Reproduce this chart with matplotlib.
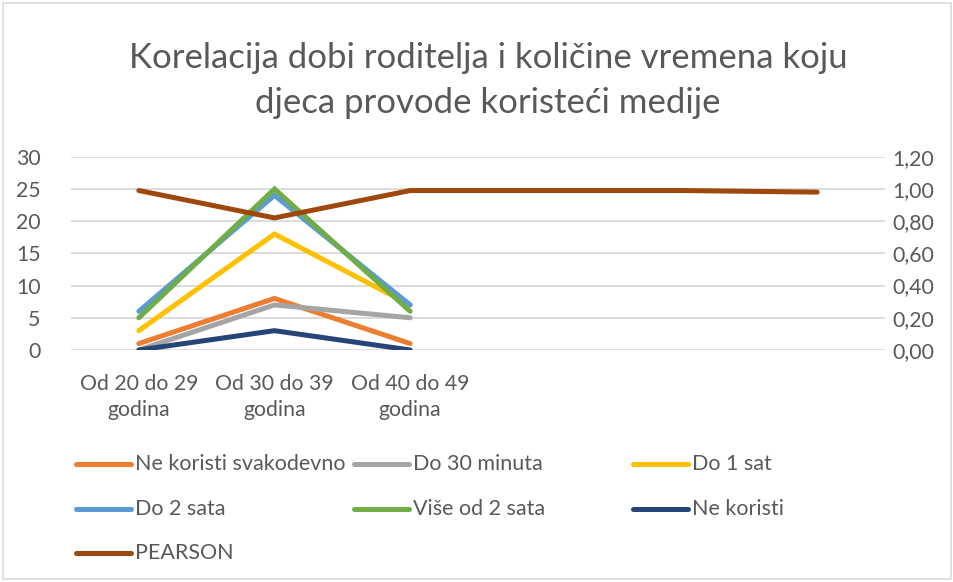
import matplotlib
matplotlib.use("Agg")
import matplotlib.pyplot as plt
from matplotlib.lines import Line2D
from matplotlib.patches import Rectangle

plt.rcParams['font.family'] = ['Lato', 'DejaVu Sans']

categories = ["Od 20 do 29\ngodina", "Od 30 do 39\ngodina", "Od 40 do 49\ngodina", "", "", ""]
series_names = ["Ne koristi svakodevno", "Do 30 minuta", "Do 1 sat",
                "Do 2 sata", "Više od 2 sata", "Ne koristi"]
ne_koristi_svakodevno = [1, 8, 1]
do_30_minuta = [0, 7, 5]
do_1_sat = [3, 18, 7]
do_2_sata = [6, 24, 7]
vise_od_2_sata = [5, 25, 6]
ne_koristi = [0, 3, 0]
pearson = [0.99, 0.82, 0.99, 0.99, 0.99, 0.98]
left_ticks = [0, 5, 10, 15, 20, 25, 30]
right_ticks = [0.0, 0.2, 0.4, 0.6, 0.8, 1.0, 1.2]

colors = ["#ED7D31", "#A5A5A5", "#FFC000", "#5B9BD5", "#70AD47", "#264478"]
pearson_color = "#9E480E"
text_color = "#595959"
grid_color = "#D9D9D9"

W, H = 954, 582
fig = plt.figure(figsize=(W / 100, H / 100), dpi=100)
fig.patches.append(Rectangle((3 / W, 3 / H), 1 - 6 / W, 1 - 6 / H, transform=fig.transFigure,
                             fill=False, edgecolor="#D9D9D9", linewidth=1.2))

ax = fig.add_axes([71 / W, 1 - 350 / H, (885 - 71) / W, (350 - 156.7) / H])
ax2 = ax.twinx()

data = [ne_koristi_svakodevno, do_30_minuta, do_1_sat, do_2_sata, vise_od_2_sata, ne_koristi]
lw = 3.6
for vals, c, name in zip(data, colors, series_names):
    ax.plot(range(len(vals)), vals, color=c, lw=lw, solid_capstyle='round',
            solid_joinstyle='miter', label=name, zorder=3)
ax2.plot(range(len(pearson)), pearson, color=pearson_color, lw=lw, solid_capstyle='round',
         solid_joinstyle='miter', label="PEARSON", zorder=3)

ax.set_xlim(-0.5, len(categories) - 0.5)
ax.set_ylim(0, 30)
ax2.set_ylim(0, 1.2)
ax.set_yticks(left_ticks)
ax.set_yticklabels([str(t) for t in left_ticks])
ax2.set_yticks(right_ticks)
ax2.set_yticklabels([f"{t:.2f}".replace(".", ",") for t in right_ticks])
ax.set_xticks(range(len(categories)))
ax.set_xticklabels(categories, linespacing=1.4)
ax.yaxis.grid(True, color=grid_color, lw=1.3)
ax.set_axisbelow(True)
for a in (ax, ax2):
    for s in a.spines.values():
        s.set_visible(False)
    a.tick_params(length=0, labelsize=15.3, labelcolor=text_color)
ax.tick_params(axis='y', pad=22)
ax.tick_params(axis='x', pad=17)
ax2.tick_params(axis='y', pad=5)
for lab in ax.get_yticklabels():
    lab.set_horizontalalignment('right')

fig.text(488 / W, 1 - 58 / H, "Korelacija dobi roditelja i količine vremena koju",
         ha='center', va='center', fontsize=25, color=text_color)
fig.text(488 / W, 1 - 103 / H, "djeca provode koristeći medije",
         ha='center', va='center', fontsize=25, color=text_color)

# legend (3 equal-width columns)
legend_items = list(zip(series_names, colors)) + [("PEARSON", pearson_color)]
col_x = [76, 354, 633]
row_y = [464, 509, 553]
for i, (name, c) in enumerate(legend_items):
    x0 = col_x[i % 3]
    y0 = row_y[i // 3]
    fig.lines.append(Line2D([x0 / W, (x0 + 55) / W], [1 - y0 / H, 1 - y0 / H],
                            transform=fig.transFigure, color=c, lw=lw, solid_capstyle='round'))
    fig.text((x0 + 59) / W, 1 - y0 / H, name, ha='left', va='center',
             fontsize=15.5, color=text_color)

fig.savefig("out.png", dpi=100)
